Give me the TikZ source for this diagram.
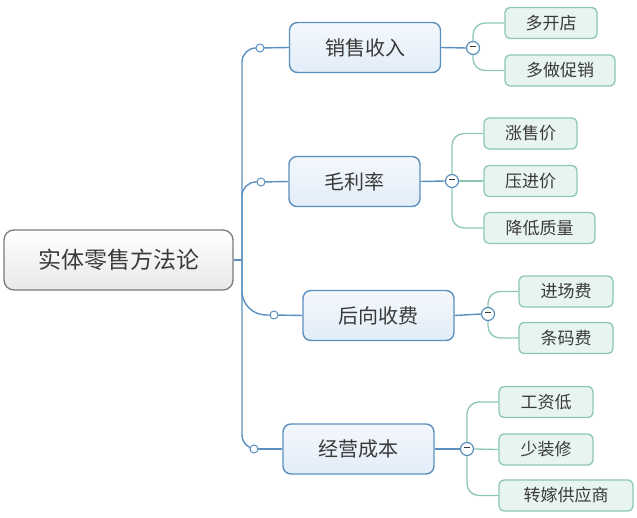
\documentclass[tikz,border=0pt]{standalone}
\usepackage{fontspec}
\setmainfont{Noto Sans CJK SC}
\usetikzlibrary{positioning}
\definecolor{branchline}{HTML}{5B8FBE}
\definecolor{branchfill}{HTML}{E2EDF8}
\definecolor{leafline}{HTML}{8CC7B2}
\definecolor{leaffill}{HTML}{E8F4EF}
\definecolor{rootline}{HTML}{7A7A7A}
\definecolor{textgray}{HTML}{3A3A3A}

\begin{document}
\begin{tikzpicture}[x=1pt,y=-1pt,
  root/.style={draw=rootline,line width=1.3pt,rounded corners=10pt,top color=white,bottom color=gray!18,
    minimum width=229pt,minimum height=60pt,text=textgray,font=\fontsize{23}{28}\selectfont},
  branch/.style={draw=branchline,line width=1.4pt,rounded corners=8pt,top color=white!60!branchfill,bottom color=branchfill,
    minimum width=151pt,minimum height=50pt,text=textgray,font=\fontsize{20}{24}\selectfont},
  leaf/.style={draw=leafline,line width=1.3pt,rounded corners=5pt,fill=leaffill,
    minimum width=94pt,minimum height=31pt,text=textgray,font=\fontsize{17}{20}\selectfont},
  knob/.style={circle,draw=branchline,line width=1pt,fill=white,inner sep=0pt,minimum size=8pt},
  fold/.style={circle,draw=branchline,line width=1.2pt,fill=white,inner sep=0pt,minimum size=13pt,text=textgray},
  trunk/.style={branchline,line width=1.4pt,rounded corners=14pt},
  twig/.style={leafline,line width=1.3pt,rounded corners=12pt}]
  \useasboundingbox (0,0) rectangle (637,518);

  % root and branches
  \node[root] (root) at (118.5,260) {实体零售方法论};
  \coordinate (hub) at (242,260);
  \node[branch] (sales) at (365,47.5) {销售收入};
  \node[branch,minimum width=131pt] (margin) at (354.5,181.5) {毛利率};
  \node[branch] (fees) at (378.5,315.5) {后向收费};
  \node[branch] (cost) at (358.5,449) {经营成本};

  \coordinate (ksales) at (260,48);
  \coordinate (kmargin) at (261,182);
  \coordinate (kfees) at (274,315);
  \coordinate (kcost) at (254,449);

  \draw[trunk] (root.east) -- (hub);
  \draw[trunk] (hub) |- (ksales);
  \draw[trunk] (hub) |- (kmargin);
  \draw[trunk,rounded corners=24pt] (hub) |- (kfees);
  \draw[trunk] (hub) |- (kcost);
  \foreach \k/\b in {ksales/sales,kmargin/margin,kfees/fees,kcost/cost}{
    \draw[trunk] (\k) -- (\b.west);
    \node[knob] at (\k) {};
  }

  % leaves
  \node[leaf,minimum width=92pt] (shops) at (551,23) {多开店};
  \node[leaf,minimum width=110pt] (promo) at (560,70.5) {多做促销};
  \node[leaf,minimum width=93pt] (raise) at (530.5,133.5) {涨售价};
  \node[leaf,minimum width=93pt] (press) at (530.5,181) {压进价};
  \node[leaf,minimum width=111pt] (quality) at (539.5,228) {降低质量};
  \node[leaf] (entry) at (566,291.5) {进场费};
  \node[leaf] (barcode) at (566,338) {条码费};
  \node[leaf] (wage) at (546,402) {工资低};
  \node[leaf] (decor) at (546,449.5) {少装修};
  \node[leaf,minimum width=134pt] (shift) at (566,495.5) {转嫁供应商};

  \node[fold] (fsales) at (473,48) {\rule[0.45ex]{5.5pt}{1.4pt}};
  \node[fold] (fmargin) at (452,181) {\rule[0.45ex]{5.5pt}{1.4pt}};
  \node[fold] (ffees) at (488,314) {\rule[0.45ex]{5.5pt}{1.4pt}};
  \node[fold] (fcost) at (467,449) {\rule[0.45ex]{5.5pt}{1.4pt}};

  \foreach \b/\f in {sales/fsales,margin/fmargin,fees/ffees,cost/fcost}
    \draw[trunk] (\b.east) -- (\f.west);

  \draw[twig] (fsales.north) |- (shops.west);
  \draw[twig] (fsales.south) |- (promo.west);
  \draw[twig] (fmargin.north) |- (raise.west);
  \draw[twig] (fmargin.east) -- (press.west);
  \draw[twig] (fmargin.south) |- (quality.west);
  \draw[twig] (ffees.north) |- (entry.west);
  \draw[twig] (ffees.south) |- (barcode.west);
  \draw[twig] (fcost.north) |- (wage.west);
  \draw[twig] (fcost.east) -- (decor.west);
  \draw[twig] (fcost.south) |- (shift.west);
\end{tikzpicture}
\end{document}
